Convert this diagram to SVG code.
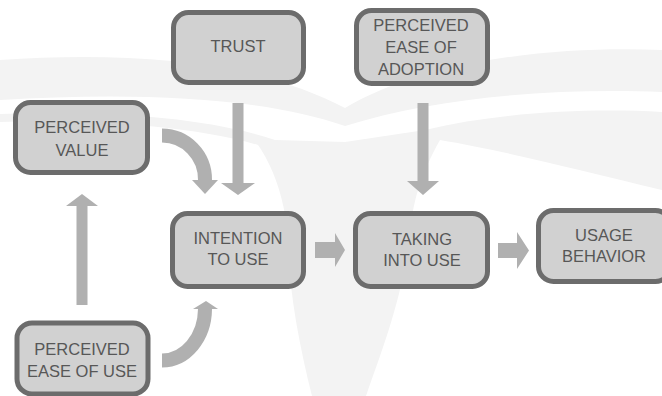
<svg xmlns="http://www.w3.org/2000/svg" width="662" height="396" viewBox="0 0 662 396">
  <defs>
    <style>
      .box { fill: #d1d1d1; stroke: #6c6c6c; stroke-width: 5; }
      .lbl { font-family: "Liberation Sans", Arial, sans-serif; font-size: 16.5px; fill: #575757; text-anchor: middle; }
      .arr { fill: #b0b0b0; }
      .curve { fill: none; stroke: #b0b0b0; stroke-width: 14; }
      .wm { fill: #f3f3f3; }
    </style>
  </defs>
  <rect width="662" height="396" fill="#ffffff"/>
  <g id="watermark">
    <path class="wm" d="M0,60 C120,52 250,58 345,108 C430,58 560,46 662,50 L662,92 C560,88 440,96 345,126 C260,96 130,92 0,100 Z"/>
    <path class="wm" d="M0,114 C110,110 210,118 275,140 L345,142 L425,130 C500,112 590,108 662,112 L662,190 C580,170 500,150 440,140 C420,175 412,205 410,235 C402,300 382,350 366,396 L312,396 C298,340 288,285 288,235 C284,195 272,165 258,145 C190,125 90,120 0,122 Z"/>
  </g>
  <g id="connectors">
    <path class="arr" d="M232.5,103 H243.5 V183 H255 L238,195 L221,183 H232.5 Z"/>
    <path class="arr" d="M417.5,103 H428.5 V181 H439 L423,195 L407,181 H417.5 Z"/>
    <path class="arr" d="M76.5,305 H87.5 V206 H98 L82,194 L66,206 H76.5 Z"/>
    <path class="arr" d="M315,242 H335 V233 L345,250 L335,267 V258 H315 Z"/>
    <path class="arr" d="M498,243 H517 V232 L529,250.5 L517,269 V258 H498 Z"/>
    <path class="curve" d="M162,135.5 A43,44 0 0 1 205,180"/>
    <path class="arr" d="M192,180 L218,180 L205,194 Z"/>
    <path class="curve" d="M162,360.5 A43,52 0 0 0 205,309"/>
    <path class="arr" d="M193,309 L218,309 L206,301 Z"/>
  </g>
  <g id="trust">
    <rect class="box" x="173.5" y="12.5" width="130" height="70" rx="15"/>
    <text class="lbl" x="238" y="52">TRUST</text>
  </g>
  <g id="ease-of-adoption">
    <rect class="box" x="356.5" y="10.5" width="131" height="73" rx="15"/>
    <text class="lbl" x="421" y="31">PERCEIVED</text>
    <text class="lbl" x="421" y="53">EASE OF</text>
    <text class="lbl" x="421" y="75">ADOPTION</text>
  </g>
  <g id="perceived-value">
    <rect class="box" x="15.5" y="102.5" width="132" height="70" rx="15"/>
    <text class="lbl" x="82" y="133">PERCEIVED</text>
    <text class="lbl" x="82" y="156">VALUE</text>
  </g>
  <g id="intention">
    <rect class="box" x="172.5" y="213.5" width="131" height="73" rx="15"/>
    <text class="lbl" x="238" y="244">INTENTION</text>
    <text class="lbl" x="238" y="265">TO USE</text>
  </g>
  <g id="taking">
    <rect class="box" x="355.5" y="213.5" width="132" height="73" rx="15"/>
    <text class="lbl" x="422" y="245">TAKING</text>
    <text class="lbl" x="422" y="266">INTO USE</text>
  </g>
  <g id="usage">
    <rect class="box" x="538.5" y="210.5" width="132" height="71" rx="15"/>
    <text class="lbl" x="604" y="241">USAGE</text>
    <text class="lbl" x="604" y="262">BEHAVIOR</text>
  </g>
  <g id="ease-of-use">
    <rect class="box" x="17" y="323" width="131" height="71" rx="15"/>
    <text class="lbl" x="82" y="355">PERCEIVED</text>
    <text class="lbl" x="82" y="377">EASE OF USE</text>
  </g>
</svg>
